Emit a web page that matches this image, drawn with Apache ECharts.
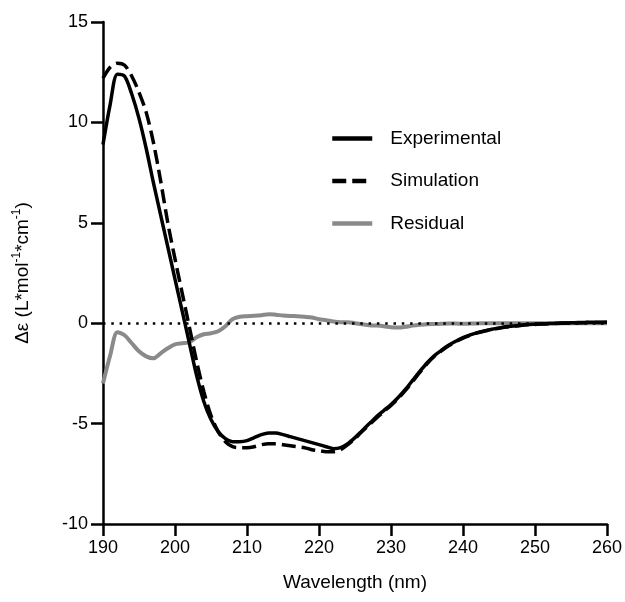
<!DOCTYPE html>
<html><head><meta charset="utf-8">
<script src="https://cdn.jsdelivr.net/npm/echarts@6/dist/echarts.min.js"></script>
<style>html,body{margin:0;padding:0;background:#fff}#c{width:625px;height:602px}</style>
</head><body><div id="c"></div>
<script>
const wavelengths = [190,191,192,193,194,195,196,197,198,199,200,201,202,203,204,205,206,207,208,209,210,211,212,213,214,215,216,217,218,219,220,221,222,223,224,225,226,227,228,229,230,231,232,233,234,235,236,237,238,239,240,241,242,243,244,245,246,247,248,249,250,251,252,253,254,255,256,257,258,259,260];
const experimental = [8.9,10.9,12.4,12.3,11.4,10.2,8.7,7.0,5.4,3.8,2.2,0.6,-1.0,-2.6,-3.9,-4.8,-5.4,-5.75,-5.9,-5.9,-5.85,-5.7,-5.55,-5.47,-5.47,-5.55,-5.65,-5.75,-5.85,-5.95,-6.05,-6.15,-6.25,-6.2,-6.0,-5.7,-5.35,-5.0,-4.65,-4.35,-4.05,-3.7,-3.3,-2.85,-2.4,-1.98,-1.62,-1.35,-1.1,-0.9,-0.72,-0.58,-0.47,-0.38,-0.3,-0.24,-0.18,-0.14,-0.1,-0.07,-0.05,-0.03,-0.02,0.0,0.01,0.02,0.03,0.04,0.05,0.05,0.05];
const simulation = [12.2,12.75,12.95,12.85,12.3,11.5,10.5,9.0,7.1,5.0,3.2,1.5,-0.2,-1.9,-3.4,-4.6,-5.4,-5.9,-6.15,-6.2,-6.2,-6.15,-6.05,-6.0,-6.0,-6.05,-6.1,-6.15,-6.2,-6.3,-6.35,-6.4,-6.4,-6.3,-6.05,-5.75,-5.38,-5.05,-4.72,-4.4,-4.1,-3.75,-3.35,-2.9,-2.45,-2.02,-1.66,-1.38,-1.13,-0.92,-0.74,-0.6,-0.48,-0.39,-0.31,-0.25,-0.19,-0.15,-0.11,-0.08,-0.06,-0.04,-0.03,-0.01,0.0,0.01,0.02,0.03,0.04,0.04,0.05];
const residual = [-3.0,-1.6,-0.45,-0.6,-1.0,-1.4,-1.65,-1.75,-1.5,-1.25,-1.05,-1.0,-0.95,-0.7,-0.55,-0.5,-0.4,-0.15,0.2,0.32,0.35,0.37,0.4,0.45,0.42,0.38,0.36,0.35,0.32,0.28,0.2,0.15,0.08,0.05,0.05,0.0,-0.05,-0.1,-0.12,-0.15,-0.2,-0.22,-0.18,-0.12,-0.08,-0.05,-0.04,-0.03,-0.02,-0.02,-0.03,-0.02,-0.01,0,0,0,0,0,0,0,0,0,0,0,0,0,0,0,0,0,0];
const seriesNames = ['Experimental','Simulation','Residual'];
const xTicks = [190,200,210,220,230,240,250,260];
const yTicks = [-10,-5,0,5,10,15];

const font = "'Liberation Sans', Arial, Helvetica, sans-serif";
const pairs = arr => wavelengths.map((w,i)=>[w,arr[i]]);
const chart = echarts.init(document.getElementById('c'), null, {renderer:'canvas'});
chart.setOption({
  animation:false,
  backgroundColor:'#fff',
  textStyle:{fontFamily:font},
  grid:{left:103,right:17,top:22,bottom:78},
  legend:{
    data:seriesNames,
    orient:'vertical',
    left:330, top:129, padding:0,
    itemWidth:40, itemHeight:20, itemGap:23.5,
    itemStyle:{opacity:0},
    lineStyle:{width:4.5},
    textStyle:{fontSize:19,color:'#000',fontFamily:font,padding:[0,0,0,13]}
  },
  xAxis:{
    type:'value', min:xTicks[0], max:xTicks[xTicks.length-1], interval:10,
    name:'Wavelength (nm)', nameLocation:'middle', nameGap:49,
    nameTextStyle:{fontSize:19,color:'#000',fontFamily:font},
    axisLine:{onZero:false,lineStyle:{color:'#000',width:2.5}},
    axisTick:{length:12,lineStyle:{color:'#000',width:2.5}},
    axisLabel:{fontSize:18,color:'#000',margin:15,fontFamily:font},
    splitLine:{show:false}
  },
  yAxis:{
    type:'value', min:yTicks[0], max:yTicks[yTicks.length-1], interval:5,
    name:'{a|Δε (L*mol}{s|-1}{a|*cm}{s|-1}{a|)}', nameLocation:'middle', nameGap:68,
    nameTextStyle:{fontSize:19,color:'#000',fontFamily:font,
      rich:{a:{fontSize:19,color:'#000',fontFamily:font,lineHeight:24},
            s:{fontSize:12,color:'#000',fontFamily:font,verticalAlign:'top',lineHeight:14}}},
    axisLine:{onZero:false,lineStyle:{color:'#000',width:2.5}},
    axisTick:{length:12,lineStyle:{color:'#000',width:2.5}},
    axisLabel:{fontSize:18,color:'#000',margin:15,fontFamily:font},
    splitLine:{show:false}
  },
  series:[
    {name:'Residual',type:'line',data:pairs(residual),symbol:'none',smooth:0.3,
      lineStyle:{color:'#8a8a8a',width:4},itemStyle:{color:'#8a8a8a'}},
    {name:'Simulation',type:'line',data:pairs(simulation),symbol:'none',smooth:0.3,
      lineStyle:{color:'#000',width:3.5,type:[14,6]},itemStyle:{color:'#000'}},
    {name:'Experimental',type:'line',data:pairs(experimental),symbol:'none',smooth:0.3,
      lineStyle:{color:'#000',width:3.5},itemStyle:{color:'#000'},
      markLine:{silent:true,symbol:'none',label:{show:false},
        lineStyle:{color:'#000',width:2.5,type:[2.5,5.8]},
        data:[{yAxis:0}]}}
  ]
});
</script></body></html>
